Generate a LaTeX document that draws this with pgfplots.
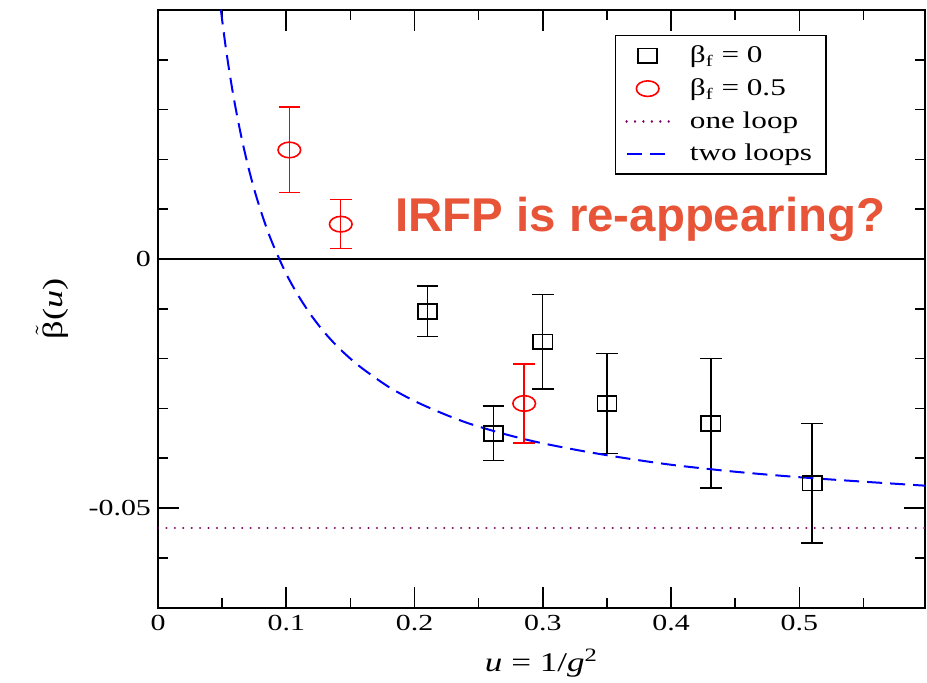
\documentclass[border=0pt]{standalone}
\usepackage{fontspec}
\setmainfont{Liberation Serif}[FakeStretch=1.3]
\newfontfamily\sansbold{Liberation Sans}
\usepackage{pgfplots}
\pgfplotsset{compat=1.18}
\definecolor{irfp}{RGB}{232,84,56}
\definecolor{oneloop}{RGB}{128,0,96}

\pgfplotstableread{
x y e
0.2100 -0.0105 0.0051
0.2616 -0.0350 0.0055
0.3000 -0.0166 0.0095
0.3500 -0.0290 0.0100
0.4310 -0.0330 0.0130
0.5100 -0.0450 0.0120
}\betazero

\pgfplotstableread{
x y e
0.1024 0.0219 0.0086
0.1425 0.0070 0.0049
0.2855 -0.0290 0.0079
}\betahalf

\begin{document}
\begin{tikzpicture}
\begin{axis}[
  name=ax,
  scale only axis,
  width=383.5pt, height=298.85pt,
  xmin=0, xmax=0.598, ymin=-0.07, ymax=0.05,
  xtick={0,0.1,0.2,0.3,0.4,0.5},
  xticklabels={0,0.1,0.2,0.3,0.4,0.5},
  ytick={-0.05,0},
  yticklabels={-0.05,0},
  minor xtick={0.05,0.15,0.25,0.35,0.45,0.55},
  minor ytick={-0.06,-0.04,-0.03,-0.02,-0.01,0.01,0.02,0.03,0.04},
  tick align=inside,
  major tick length=10.5pt, minor tick length=5pt,
  every tick/.style={black, line width=0.8pt},
  axis line style={line width=1pt},
  /pgf/number format/assume math mode=true,
  tick label style={font=\fontsize{11.5}{13}\selectfont},
  xlabel={\textit{u} = 1/\textit{g}\textsuperscript{2}},
  ylabel={\(\tilde{\mbox{β}}\)(\textit{u})},
  label style={font=\fontsize{13.5}{15}\selectfont},
  xlabel style={at={([yshift=-32pt]rel axis cs:0.5,0)}, anchor=base},
  ylabel style={at={([xshift=-53pt]rel axis cs:0,0.5)}, anchor=center, font=\fontsize{14}{16}\selectfont},
  legend style={at={(rel axis cs:0.872,0.958)}, anchor=north east, draw=black, line width=0.7pt,
    font=\fontsize{12}{14}\selectfont, row sep=2.5pt, inner xsep=5pt, inner ysep=3pt,
    /tikz/every odd column/.append style={column sep=8pt}},
  legend cell align=left,
  legend image code/.code={\draw[mark repeat=2,mark phase=2,#1] plot coordinates {(0cm,0cm) (0.37cm,0cm) (0.74cm,0cm)};},
]
\addplot[black, line width=0.6pt, forget plot] coordinates {(0,0) (0.598,0)};

\addplot[black, line width=0.7pt, only marks, mark=square, mark size=3.7pt,
  mark options={xscale=1.3, line width=0.8pt},
  error bars/.cd, y dir=both, y explicit,
  error bar style={line width=0.7pt},
  error mark options={rotate=90, mark size=5.4pt, line width=0.7pt}]
  table[x=x, y=y, y error=e] {\betazero};
\addlegendentry{β\textsubscript{f} = 0}

\addplot[red, line width=0.7pt, only marks, mark=o, mark size=3.9pt,
  mark options={xscale=1.45, line width=0.8pt},
  error bars/.cd, y dir=both, y explicit,
  error bar style={line width=0.7pt},
  error mark options={rotate=90, mark size=5.4pt, line width=0.7pt}]
  table[x=x, y=y, y error=e] {\betahalf};
\addlegendentry{β\textsubscript{f} = 0.5}

\addplot[oneloop, line width=1.2pt, dash pattern=on 0.01pt off 4.2pt, line cap=round]
  coordinates {(0,-0.054) (0.598,-0.054)};
\addlegendentry{one loop}

\addplot[blue, line width=1pt, dash pattern=on 7.5pt off 4pt, smooth]
  coordinates {
  (0.049,0.0501) (0.050,0.0480) (0.0525,0.0431) (0.055,0.0387) (0.0575,0.0347)
  (0.060,0.0310) (0.065,0.0245) (0.070,0.0189) (0.075,0.0140) (0.080,0.0098)
  (0.085,0.0060) (0.090,0.0027) (0.100,-0.0030) (0.110,-0.0076) (0.120,-0.0115)
  (0.130,-0.0148) (0.140,-0.0176) (0.150,-0.0200) (0.160,-0.0221) (0.180,-0.0257)
  (0.200,-0.0285) (0.220,-0.0308) (0.240,-0.0328) (0.260,-0.0344) (0.280,-0.0358)
  (0.300,-0.0370) (0.330,-0.0385) (0.360,-0.0398) (0.400,-0.0413) (0.450,-0.0427)
  (0.500,-0.0438) (0.550,-0.0447) (0.598,-0.0455)};
\addlegendentry{two loops}

\node[anchor=base, text=irfp, font=\sansbold\bfseries\fontsize{23.7}{28}\selectfont]
  at (axis cs:0.376,0.00548) {IRFP is re-appearing?};
\end{axis}
\pgfresetboundingbox
\path ([xshift=-79pt,yshift=-37.15pt]ax.south west) rectangle ([xshift=1pt,yshift=5pt]ax.north east);
\end{tikzpicture}
\end{document}
